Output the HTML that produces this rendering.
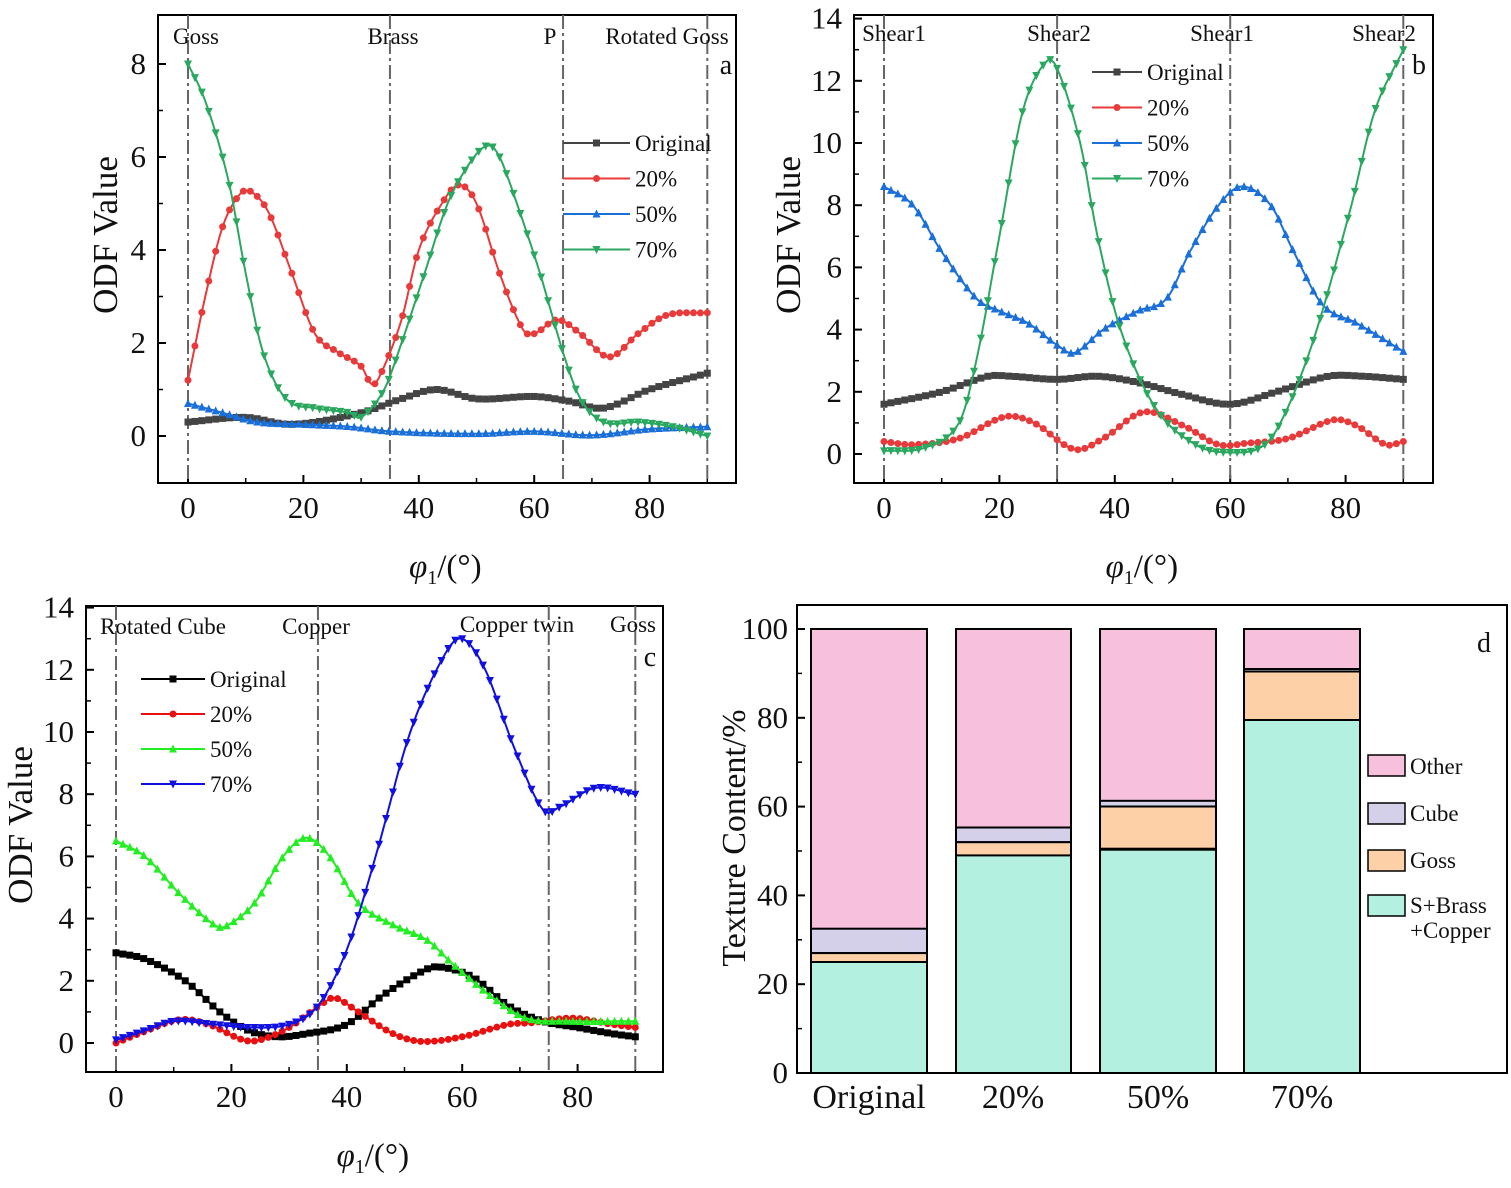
<!DOCTYPE html>
<html><head><meta charset="utf-8"><style>
body{margin:0;background:#fff}
svg text{font-family:"Liberation Serif",serif;fill:#111}
</style></head><body>
<svg id="s" width="1511" height="1183" viewBox="0 0 1511 1183" xmlns="http://www.w3.org/2000/svg">
<rect width="1511" height="1183" fill="#fff"/>
<g stroke="#000" stroke-width="2">
<rect x="811" y="629" width="116" height="444" fill="#f7c0dc"/>
<rect x="811" y="928.7" width="116" height="24.4" fill="#d4d0ea"/>
<rect x="811" y="953.1" width="116" height="8.9" fill="#fdd0a8"/>
<rect x="811" y="962" width="116" height="111" fill="#b4f0e0"/>
<rect x="956" y="629" width="115" height="444" fill="#f7c0dc"/>
<rect x="956" y="827.5" width="115" height="14.7" fill="#d4d0ea"/>
<rect x="956" y="842.2" width="115" height="13.3" fill="#fdd0a8"/>
<rect x="956" y="855.4" width="115" height="217.6" fill="#b4f0e0"/>
<rect x="1100" y="629" width="116" height="444" fill="#f7c0dc"/>
<rect x="1100" y="800.8" width="116" height="6" fill="#d4d0ea"/>
<rect x="1100" y="806.5" width="116" height="42.2" fill="#fdd0a8"/>
<rect x="1100" y="849.7" width="116" height="223.3" fill="#b4f0e0"/>
<rect x="1244" y="629" width="116" height="40" fill="#f7c0dc"/>
<rect x="1244" y="669" width="116" height="2.5" fill="#d4d0ea"/>
<rect x="1244" y="671.5" width="116" height="48.5" fill="#fdd0a8"/>
<rect x="1244" y="720" width="116" height="353" fill="#b4f0e0"/>
<rect x="1368" y="755" width="37" height="21" fill="#f7c0dc" stroke-width="1.5"/>
<rect x="1368" y="803" width="37" height="21" fill="#d4d0ea" stroke-width="1.5"/>
<rect x="1368" y="850" width="37" height="21" fill="#fdd0a8" stroke-width="1.5"/>
<rect x="1368" y="895" width="37" height="21" fill="#b4f0e0" stroke-width="1.5"/>
</g>
<g font-size="23">
<text x="1410" y="774">Other</text><text x="1410" y="821">Cube</text><text x="1410" y="868">Goss</text>
<text x="1410" y="913">S+Brass</text><text x="1410" y="938">+Copper</text>
</g>
<text x="1477" y="652" font-size="28">d</text>
<g font-size="34" text-anchor="middle">
<text x="869" y="1108">Original</text><text x="1013" y="1108">20%</text><text x="1158" y="1108">50%</text><text x="1302" y="1108">70%</text>
</g>
<text transform="translate(745,838) rotate(-90)" font-size="34" text-anchor="middle">Texture Content/%</text>
<g id="g"></g>
</svg>
<script>
const NS="http://www.w3.org/2000/svg",G=document.getElementById('g');
function el(t,a,txt){const e=document.createElementNS(NS,t);for(const k in a)e.setAttribute(k,a[k]);if(txt!=null)e.textContent=txt;G.appendChild(e);return e;}
el('rect',{x:797,y:605,width:710,height:468,fill:'none',stroke:'#000','stroke-width':2});
for(let v=0;v<=100;v+=20){const y=1073-v*4.44;el('line',{x1:797,x2:805,y1:y,y2:y,stroke:'#000','stroke-width':2});el('text',{x:788,y:y+10,'font-size':31,'text-anchor':'end'},v);
 if(v<100){el('line',{x1:797,x2:802,y1:1073-(v+10)*4.44,y2:1073-(v+10)*4.44,stroke:'#000','stroke-width':1.5});}}
function interp(pts,x){for(let i=0;i<pts.length-1;i++){if(x<=pts[i+1][0]){const p0=pts[Math.max(i-1,0)],p1=pts[i],p2=pts[i+1],p3=pts[Math.min(i+2,pts.length-1)];
 const t=(x-p1[0])/(p2[0]-p1[0]);const h=p2[0]-p1[0];
 const m1=(p2[1]-p0[1])/(p2[0]-p0[0]||1)*h,m2=(p3[1]-p1[1])/(p3[0]-p1[0]||1)*h;
 const t2=t*t,t3=t2*t;return (2*t3-3*t2+1)*p1[1]+(t3-2*t2+t)*m1+(-2*t3+3*t2)*p2[1]+(t3-t2)*m2;}}return pts[pts.length-1][1];}
function marker(type,x,y,c){const s=3.5;
 if(type=='s')el('rect',{x:x-s,y:y-s,width:2*s,height:2*s,fill:c});
 else if(type=='o')el('circle',{cx:x,cy:y,r:s,fill:c});
 else if(type=='u')el('polygon',{points:`${x},${y-s-1} ${x-s-0.5},${y+s} ${x+s+0.5},${y+s}`,fill:c});
 else el('polygon',{points:`${x},${y+s+1} ${x-s-0.5},${y-s} ${x+s+0.5},${y-s}`,fill:c});}
function panel(P){
 const X=v=>P.x0+v*P.sx,Y=v=>P.y0-v*P.sy;
 el('rect',{x:P.L,y:P.T,width:P.R-P.L,height:P.B-P.T,fill:'none',stroke:'#000','stroke-width':2});
 for(let v=0;v<=80;v+=20){el('line',{x1:X(v),x2:X(v),y1:P.B,y2:P.B-8,stroke:'#000','stroke-width':2});el('text',{x:X(v),y:P.B+35,'font-size':31,'text-anchor':'middle'},v);}
 for(let v=10;v<=90;v+=20)el('line',{x1:X(v),x2:X(v),y1:P.B,y2:P.B-5,stroke:'#000','stroke-width':1.5});
 for(let v=0;v<=P.ymax;v+=P.ys){el('line',{x1:P.L,x2:P.L+8,y1:Y(v),y2:Y(v),stroke:'#000','stroke-width':2});el('text',{x:P.L-12,y:Y(v)+10,'font-size':31,'text-anchor':'end'},v);
  if(v+P.ys/2<P.ymax+0.5)el('line',{x1:P.L,x2:P.L+5,y1:Y(v+P.ys/2),y2:Y(v+P.ys/2),stroke:'#000','stroke-width':1.5});}
 el('text',{transform:`translate(${P.tx},${(P.T+P.B)/2-14}) rotate(-90)`,'font-size':35,'text-anchor':'middle'},'ODF Value');
 const t=el('text',{x:(P.L+P.R)/2-38,y:P.B+94,'font-size':33});
 t.innerHTML='<tspan font-style="italic">φ</tspan><tspan font-size="20" dy="7">1</tspan><tspan dy="-7">/(°)</tspan>';
 P.vl.forEach(v=>el('line',{x1:X(v),x2:X(v),y1:P.T,y2:P.B,stroke:'#666','stroke-width':2,'stroke-dasharray':'14,4,3,4'}));
 P.lab.forEach(l=>el('text',{x:l[1],y:l[2],'font-size':23,'text-anchor':'middle'},l[0]));
 el('text',{x:P.let[1],y:P.let[2],'font-size':28,'text-anchor':'middle'},P.let[0]);
 P.ser.forEach((s,i)=>{let d='';for(let v=0;v<=90.001;v+=0.5){d+=(v?'L':'M')+X(v).toFixed(1)+','+Y(interp(s.p,v)).toFixed(1);}
  el('path',{d,fill:'none',stroke:s.c,'stroke-width':2});
  for(let v=0;v<=90.001;v+=1.2)marker(s.m,X(v),Y(interp(s.p,v)),s.c);
  const ly=P.leg[1]+i*P.leg[3];el('line',{x1:P.leg[0],x2:P.leg[0]+P.leg[2],y1:ly,y2:ly,stroke:s.c,'stroke-width':2});
  marker(s.m,P.leg[0]+P.leg[2]/2,ly,s.c);
  el('text',{x:P.leg[0]+P.leg[2]+5,y:ly+8,'font-size':23},s.n);});
}
panel({L:158,R:736,T:15,B:483,tx:117,x0:188,sx:5.77,y0:436,sy:46.5,ymax:8,ys:2,vl:[0,35,65,90],
 lab:[['Goss',196,44],['Brass',393,44],['P',550,44],['Rotated Goss',667,44]],let:['a',726,74],leg:[563,143,67,35.5],
 ser:[
 {n:'Original',c:'#444',m:'s',p:[[0,0.3],[10,0.4],[18,0.25],[30,0.5],[37,0.8],[43,1.0],[50,0.8],[60,0.85],[66,0.75],[72,0.6],[80,1.0],[90,1.35]]},
 {n:'20%',c:'#e83a3a',m:'o',p:[[0,1.2],[3,3],[6,4.5],[9,5.2],[11,5.25],[14,4.8],[18,3.5],[22,2.2],[26,1.8],[30,1.5],[32,1.1],[34,1.5],[37,2.5],[40,4],[44,5],[47,5.4],[50,5],[54,3.5],[58,2.3],[60,2.2],[64,2.5],[68,2.2],[73,1.7],[78,2.2],[83,2.6],[90,2.65]]},
 {n:'50%',c:'#1a6fd8',m:'u',p:[[0,0.7],[6,0.5],[12,0.3],[20,0.25],[28,0.2],[35,0.1],[50,0.05],[60,0.1],[70,0.02],[80,0.15],[90,0.2]]},
 {n:'70%',c:'#2aa860',m:'d',p:[[0,8],[3,7.2],[7,5.5],[10,3.5],[13,1.8],[17,0.8],[22,0.6],[28,0.5],[30,0.4],[34,1],[37,2],[41,3.5],[45,5],[49,5.9],[52,6.25],[54,6],[57,5],[61,3.5],[65,1.8],[68,0.8],[72,0.3],[78,0.3],[84,0.2],[90,0]]}]});
panel({L:854,R:1433,T:15,B:483,tx:800,x0:884,sx:5.77,y0:454,sy:31.1,ymax:14,ys:2,vl:[0,30,60,90],
 lab:[['Shear1',894,41],['Shear2',1059,41],['Shear1',1222,41],['Shear2',1384,41]],let:['b',1419,74],leg:[1092,72,50,35.5],
 ser:[
 {n:'Original',c:'#444',m:'s',p:[[0,1.6],[10,2],[18,2.5],[22,2.5],[30,2.4],[37,2.5],[44,2.3],[52,1.9],[60,1.6],[68,2],[77,2.5],[83,2.5],[90,2.4]]},
 {n:'20%',c:'#e83a3a',m:'o',p:[[0,0.4],[5,0.3],[13,0.5],[21,1.2],[26,1.0],[33,0.15],[38,0.5],[45,1.35],[52,0.9],[58,0.3],[63,0.35],[70,0.5],[78,1.1],[82,0.9],[87,0.3],[90,0.4]]},
 {n:'50%',c:'#1a6fd8',m:'u',p:[[0,8.6],[5,8],[10,6.5],[16,5],[20,4.6],[25,4.2],[30,3.5],[33,3.25],[38,4],[44,4.6],[49,5],[53,6.5],[58,8],[62,8.6],[67,8],[71,6.5],[76,4.8],[82,4.2],[90,3.3]]},
 {n:'70%',c:'#2aa860',m:'d',p:[[0,0.1],[7,0.2],[13,1],[16,3],[20,7],[24,11],[28,12.6],[30,12.4],[34,10],[37,7],[41,4],[47,1.5],[54,0.3],[60,0.05],[66,0.3],[70,1.5],[75,4],[81,8],[85,11],[90,13]]}]});
panel({L:86,R:663,T:606,B:1072,tx:32,x0:116,sx:5.77,y0:1043,sy:31.1,ymax:14,ys:2,vl:[0,35,75,90],
 lab:[['Rotated Cube',163,634],['Copper',316,634],['Copper twin',517,632],['Goss',633,632]],let:['c',650,666],leg:[141,679,64,35],
 ser:[
 {n:'Original',c:'#000',m:'s',p:[[0,2.9],[5,2.7],[12,2],[18,1],[23,0.4],[28,0.2],[33,0.3],[40,0.6],[46,1.5],[53,2.3],[56,2.45],[62,2.1],[68,1.2],[74,0.7],[80,0.5],[86,0.3],[90,0.2]]},
 {n:'20%',c:'#e81010',m:'o',p:[[0,0],[4,0.3],[11,0.75],[16,0.6],[22,0.1],[25,0.1],[30,0.5],[36,1.3],[38,1.45],[42,1],[48,0.3],[53,0.05],[60,0.2],[68,0.6],[72,0.65],[79,0.8],[86,0.6],[90,0.5]]},
 {n:'50%',c:'#22ee22',m:'u',p:[[0,6.5],[5,6],[11,4.8],[17,3.8],[19,3.75],[24,4.5],[29,6],[33,6.6],[37,6],[42,4.5],[48,3.8],[54,3.3],[58,2.6],[65,1.5],[71,0.8],[78,0.7],[90,0.7]]},
 {n:'70%',c:'#1010e0',m:'d',p:[[0,0.1],[5,0.4],[10,0.7],[17,0.6],[23,0.5],[30,0.6],[35,1.2],[40,3],[45,6],[51,10],[57,12.5],[60,13],[64,12],[69,9.5],[74,7.5],[77,7.6],[83,8.2],[90,8]]}]});
</script>
</body></html>
